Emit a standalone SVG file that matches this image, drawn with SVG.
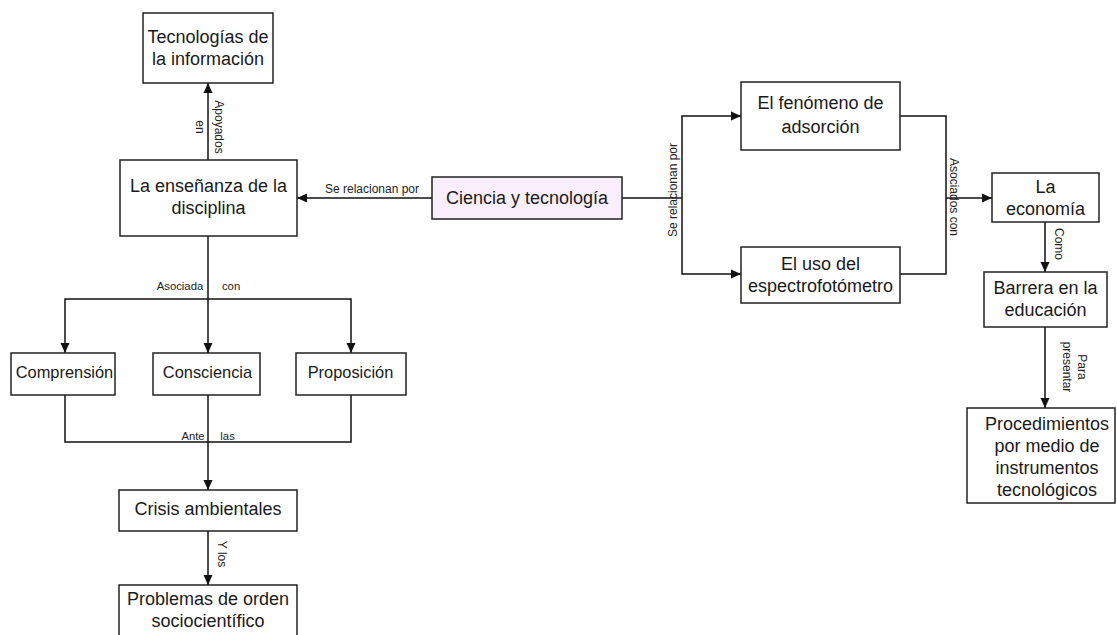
<svg xmlns="http://www.w3.org/2000/svg" width="1117" height="635" viewBox="0 0 1117 635">
  <style>
    .box { fill: #ffffff; stroke: #222222; stroke-width: 1.5; }
    .hl { fill: #f9eefb; }
    .t { font-family: "Liberation Sans", Arial, sans-serif; font-size: 18px; fill: #1a1a1a; text-anchor: middle; }
    .sm { font-size: 16.4px; }
    .lbl { font-family: "Liberation Sans", Arial, sans-serif; font-size: 12px; fill: #222222; text-anchor: middle; }
    .lbs { font-size: 11.3px; }
    .ln { fill: none; stroke: #111111; stroke-width: 1.5; }
    .arr { marker-end: url(#head); }
  </style>
  <defs>
    <marker id="head" viewBox="0 0 10 10" refX="10" refY="5" markerWidth="10" markerHeight="10" markerUnits="userSpaceOnUse" orient="auto">
      <path d="M0,0.5 L10,5 L0,9.5 Z" fill="#111111"/>
    </marker>
  </defs>

  <!-- connectors -->
  <g id="connectors">
    <path class="ln arr" d="M208,160 L208,83"/>
    <path class="ln arr" d="M432,198 L297,198"/>
    <path class="ln arr" d="M208,236 L208,353"/>
    <path class="ln arr" d="M208,299 L65,299 L65,353"/>
    <path class="ln arr" d="M208,299 L351,299 L351,353"/>
    <path class="ln" d="M65,395 L65,442 L351,442 L351,395"/>
    <path class="ln arr" d="M208,395 L208,490"/>
    <path class="ln arr" d="M208,531 L208,585"/>
    <path class="ln" d="M622,198 L682,198"/>
    <path class="ln arr" d="M682,198 L682,116 L741,116"/>
    <path class="ln arr" d="M682,198 L682,274 L741,274"/>
    <path class="ln" d="M900,116 L946,116 L946,274 L900,274"/>
    <path class="ln arr" d="M946,198 L992,198"/>
    <path class="ln arr" d="M1045,222 L1045,272"/>
    <path class="ln arr" d="M1045,327 L1045,408"/>

    <text class="lbl" transform="translate(208,127) rotate(90)"><tspan x="0" y="-7">Apoyados</tspan><tspan x="0" y="12">en</tspan></text>
    <text class="lbl" x="372" y="193">Se relacionan por</text>
    <text class="lbl lbs" y="290"><tspan x="180">Asociada</tspan><tspan x="229.5"> con</tspan></text>
    <text class="lbl lbs" y="440"><tspan x="193">Ante</tspan><tspan x="226"> las</tspan></text>
    <text class="lbl" transform="translate(218,554) rotate(90)" x="0" y="0">Y los</text>
    <text class="lbl" transform="translate(677,190) rotate(-90)" x="0" y="0">Se relacionan por</text>
    <text class="lbl" transform="translate(949.5,197) rotate(90)" x="0" y="0">Asociados con</text>
    <text class="lbl" transform="translate(1055,244) rotate(90)" x="0" y="0">Como</text>
    <text class="lbl" transform="translate(1074,367) rotate(90)"><tspan x="0" y="-4">Para</tspan><tspan x="0" y="11">presentar</tspan></text>
  </g>

  <g id="tecnologias">
    <rect class="box" x="143" y="13" width="130" height="70"/>
    <text class="t"><tspan x="208" y="43">Tecnologías de</tspan><tspan x="208" y="65">la información</tspan></text>
  </g>

  <g id="ensenanza">
    <rect class="box" x="120" y="160" width="177" height="76"/>
    <text class="t"><tspan x="208.5" y="192">La enseñanza de la</tspan><tspan x="208.5" y="214">disciplina</tspan></text>
  </g>

  <g id="ciencia">
    <rect class="box hl" x="432" y="177" width="190" height="42"/>
    <text class="t" x="527" y="204">Ciencia y tecnología</text>
  </g>

  <g id="comprension">
    <rect class="box" x="11" y="353" width="104" height="42"/>
    <text class="t sm" x="64.5" y="378">Comprensión</text>
  </g>

  <g id="consciencia">
    <rect class="box" x="153" y="353" width="107" height="42"/>
    <text class="t sm" x="207.5" y="378">Consciencia</text>
  </g>

  <g id="proposicion">
    <rect class="box" x="296" y="353" width="110" height="42"/>
    <text class="t sm" x="350.5" y="378">Proposición</text>
  </g>

  <g id="crisis">
    <rect class="box" x="119" y="490" width="178" height="41"/>
    <text class="t" x="208" y="515">Crisis ambientales</text>
  </g>

  <g id="problemas">
    <rect class="box" x="119" y="585" width="178" height="60"/>
    <text class="t"><tspan x="208" y="605">Problemas de orden</tspan><tspan x="208" y="627">sociocientífico</tspan></text>
  </g>

  <g id="fenomeno">
    <rect class="box" x="741" y="82" width="159" height="68"/>
    <text class="t"><tspan x="820.5" y="109">El fenómeno de</tspan><tspan x="820.5" y="133">adsorción</tspan></text>
  </g>

  <g id="espectro">
    <rect class="box" x="741" y="247" width="159" height="56"/>
    <text class="t"><tspan x="820.5" y="270">El uso del</tspan><tspan x="820.5" y="292">espectrofotómetro</tspan></text>
  </g>

  <g id="economia">
    <rect class="box" x="992" y="173" width="107" height="49"/>
    <text class="t"><tspan x="1045.5" y="193">La</tspan><tspan x="1045.5" y="215">economía</tspan></text>
  </g>

  <g id="barrera">
    <rect class="box" x="984" y="272" width="123" height="55"/>
    <text class="t"><tspan x="1045.5" y="294">Barrera en la</tspan><tspan x="1045.5" y="316">educación</tspan></text>
  </g>

  <g id="procedimientos">
    <rect class="box" x="967" y="408" width="148" height="95"/>
    <text class="t"><tspan x="1047" y="430">Procedimientos</tspan><tspan x="1047" y="452">por medio de</tspan><tspan x="1047" y="474">instrumentos</tspan><tspan x="1047" y="496">tecnológicos</tspan></text>
  </g>
</svg>
